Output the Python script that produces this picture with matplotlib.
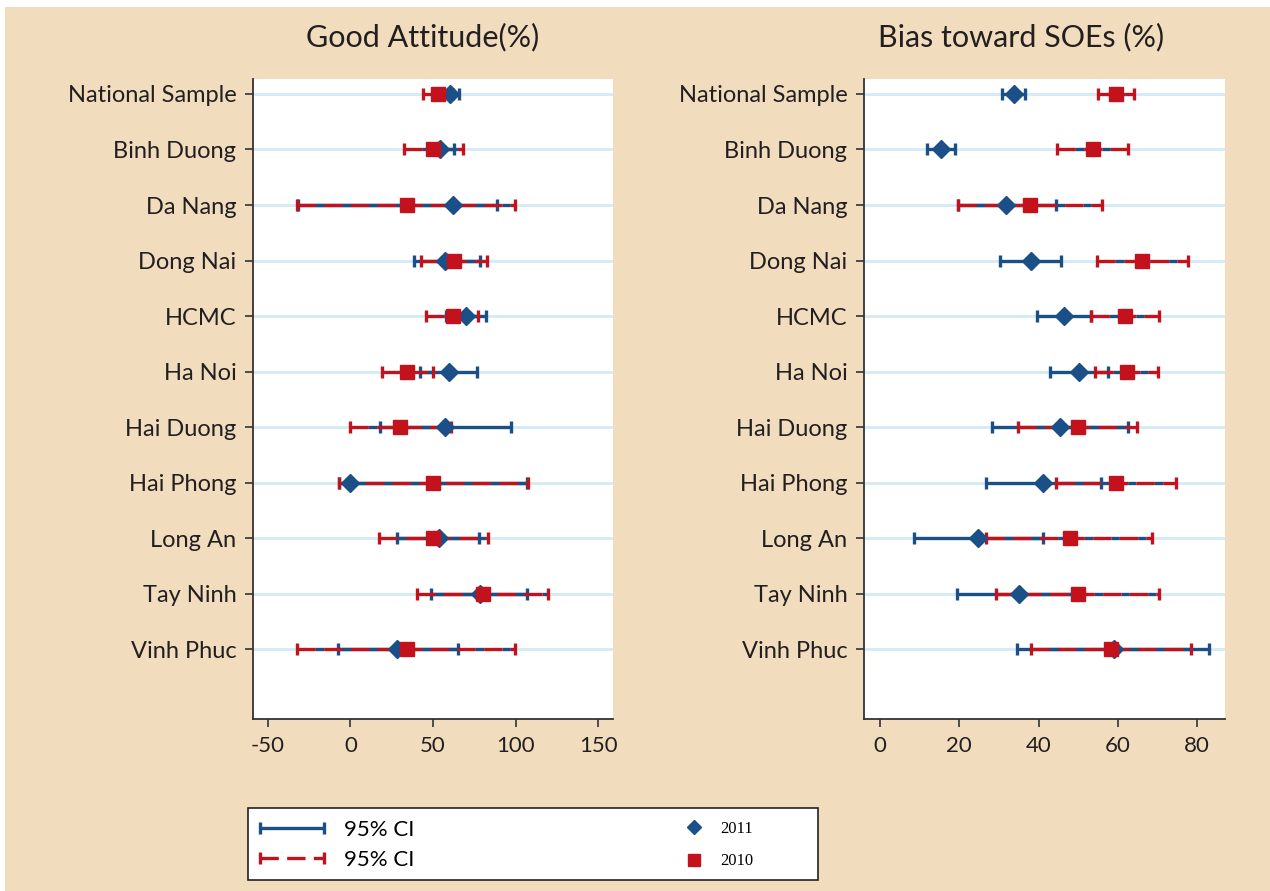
import matplotlib
matplotlib.use("Agg")
import matplotlib.pyplot as plt
import numpy as np
from matplotlib.patches import Rectangle
from matplotlib.legend_handler import HandlerErrorbar
from matplotlib.container import ErrorbarContainer

# provinces, top to bottom
regions = ["National Sample", "Binh Duong", "Da Nang", "Dong Nai", "HCMC", "Ha Noi",
           "Hai Duong", "Hai Phong", "Long An", "Tay Ninh", "Vinh Phuc"]

# Good Attitude (%)
att_2011 = [60, 54.5, 62, 57, 70, 59.6, 57.2, 0, 53.5, 78.4, 28.3]
att_2011_lo = [55, 47, -32, 38.4, 58, 42.4, 17.8, -7, 28.5, 48.9, -7.3]
att_2011_hi = [66, 62.6, 89, 78.4, 82, 76.8, 97.2, 107, 77.8, 106.7, 65]
att_2010 = [53, 50, 34, 63, 62, 34.3, 30.3, 50, 50, 80, 34]
att_2010_lo = [44, 32.7, -32.3, 42.8, 46, 19.2, 0, -6.7, 17.2, 40.4, -32.3]
att_2010_hi = [62, 68, 99.6, 82.8, 77, 49.9, 60.6, 107.5, 83.2, 119.8, 99.6]

# Bias toward SOEs (%)
soe_2011 = [33.7, 15.4, 31.9, 38.2, 46.4, 50.3, 45.4, 41.2, 24.8, 35.1, 59.0]
soe_2011_lo = [30.8, 11.9, 19.8, 30.3, 39.7, 42.9, 28.2, 26.7, 8.6, 19.4, 34.6]
soe_2011_hi = [36.6, 18.9, 44.5, 45.7, 53.2, 57.6, 62.6, 55.7, 41.2, 50.8, 83.0]
soe_2010 = [59.5, 53.6, 37.8, 66.1, 61.8, 62.2, 49.9, 59.5, 47.9, 49.9, 58.2]
soe_2010_lo = [55.0, 44.7, 19.8, 54.7, 53.1, 54.3, 34.9, 44.5, 26.7, 29.4, 38.2]
soe_2010_hi = [64.0, 62.5, 55.9, 77.6, 70.4, 70.2, 64.9, 74.6, 68.7, 70.4, 78.5]

att_ticks = [-50, 0, 50, 100, 150]
soe_ticks = [0, 20, 40, 60, 80]

BLUE = "#1a4f88"
RED = "#c3121c"
WHEAT = "#f1dcbe"
GRID = "#d3eaf7"
FONT = "Lato"

W, H = 1270, 891
fig = plt.figure(figsize=(W / 100, H / 100), dpi=100)
fig.patch.set_facecolor("white")
fig.add_artist(Rectangle((5 / W, 0), 1, 1 - 7 / H, transform=fig.transFigure,
                         facecolor=WHEAT, edgecolor="none", zorder=-5))


def panel(ax, v11, lo11, hi11, v10, lo10, hi10, xlim, ticks):
    y = np.arange(len(regions))
    v11, lo11, hi11 = map(np.array, (v11, lo11, hi11))
    v10, lo10, hi10 = map(np.array, (v10, lo10, hi10))
    # CI bars, centred on the middle of the interval
    c11 = ax.errorbar((lo11 + hi11) / 2, y, xerr=(hi11 - lo11) / 2, fmt="none",
                      ecolor=BLUE, elinewidth=2.4, capsize=4.5, capthick=2.4, zorder=3)
    c10 = ax.errorbar((lo10 + hi10) / 2, y, xerr=(hi10 - lo10) / 2, fmt="none",
                      ecolor=RED, elinewidth=2.4, capsize=4.5, capthick=2.4, zorder=4)
    c10[2][0].set_linestyle((0, (5.5, 2.5)))
    c10[2][0].set_gapcolor(BLUE)
    m11, = ax.plot(v11, y, "D", color=BLUE, ms=8.8, mec=BLUE, ls="none", zorder=5)
    m10, = ax.plot(v10, y, "s", color=RED, ms=10, mec=RED, ls="none", zorder=6)
    ax.set_yticks(y)
    ax.set_yticklabels(regions, fontsize=17, family=FONT, color="#231f20")
    ax.set_ylim(len(regions) - 1 + 1.26, -0.27)
    ax.set_xlim(*xlim)
    ax.set_xticks(ticks)
    ax.set_xticklabels([str(t) for t in ticks], fontsize=16, family=FONT, color="#231f20")
    ax.grid(axis="y", color=GRID, lw=2, zorder=0)
    ax.set_axisbelow(True)
    for s in ["top", "right"]:
        ax.spines[s].set_visible(False)
    for s in ["left", "bottom"]:
        ax.spines[s].set_color("#333333")
        ax.spines[s].set_linewidth(1.3)
    ax.tick_params(axis="both", length=6, width=1.2, color="#333333", pad=6)
    return c11, c10, m11, m10


ax1 = fig.add_axes([253 / W, 1 - 719 / H, 360 / W, 640 / H])
ax2 = fig.add_axes([864 / W, 1 - 719 / H, 361 / W, 640 / H])
c11, c10, m11, m10 = panel(ax1, att_2011, att_2011_lo, att_2011_hi,
                           att_2010, att_2010_lo, att_2010_hi, (-59, 159), att_ticks)
panel(ax2, soe_2011, soe_2011_lo, soe_2011_hi,
      soe_2010, soe_2010_lo, soe_2010_hi, (-4, 87), soe_ticks)

fig.text(423 / W, 1 - 37 / H, "Good Attitude(%)", ha="center", va="center",
         fontsize=22, family=FONT, color="#231f20")
fig.text(1021 / W, 1 - 37 / H, "Bias toward SOEs (%)", ha="center", va="center",
         fontsize=22, family=FONT, color="#231f20")

# legend box
fig.add_artist(Rectangle((248 / W, 1 - 880 / H), 570 / W, 72 / H, transform=fig.transFigure,
                         facecolor="white", edgecolor="#222222", lw=1.2, zorder=1))
leg1 = fig.legend([c11, c10], ["95% CI", "95% CI"], loc="center left",
                  bbox_to_anchor=(260 / W, 1 - 845 / H), frameon=False, borderpad=0,
                  borderaxespad=0, handlelength=2.9, handletextpad=0.9, labelspacing=0.45,
                  prop={"family": FONT, "size": 16},
                  handler_map={ErrorbarContainer: HandlerErrorbar(xerr_size=1.45)})
leg1.set_zorder(2)
for h in leg1.get_children()[0].findobj(matplotlib.collections.LineCollection):
    h.set_gapcolor(None)
leg2 = fig.legend([m11, m10], ["2011", "2010"], loc="center left",
                  bbox_to_anchor=(684 / W, 1 - 845 / H), frameon=False, borderpad=0,
                  borderaxespad=0, handlelength=1.2, handletextpad=1.0, labelspacing=1.0,
                  markerscale=0.85, prop={"family": "Liberation Serif", "size": 12})
leg2.set_zorder(2)

fig.savefig("out.png", dpi=100, facecolor=fig.get_facecolor())
